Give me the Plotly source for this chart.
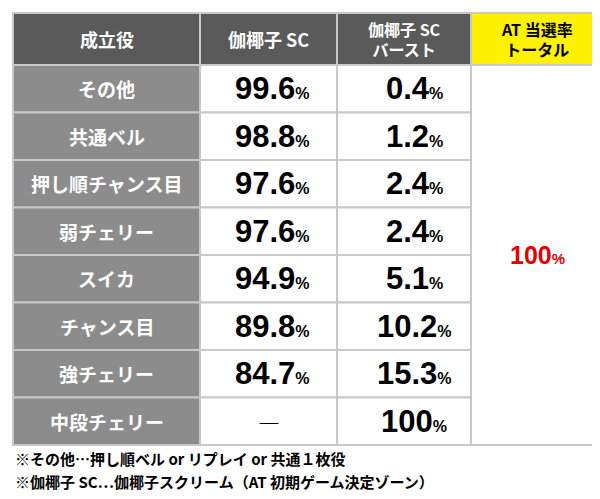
import plotly.graph_objects as go

headers = ["成立役", "伽椰子 SC", "伽椰子 SC<br>バースト", "AT 当選率<br>トータル"]
roles = ["その他", "共通ベル", "押し順チャンス目", "弱チェリー", "スイカ", "チャンス目", "強チェリー", "中段チェリー"]
sc = ["99.6", "98.8", "97.6", "97.6", "94.9", "89.8", "84.7", None]
burst = ["0.4", "1.2", "2.4", "2.4", "5.1", "10.2", "15.3", "100"]
total = "100"
notes = ["※その他…押し順ベル or リプレイ or 共通１枚役",
         "※伽椰子 SC…伽椰子スクリーム（AT 初期ゲーム決定ゾーン）"]

FONT = "Noto Sans CJK JP"
NUMF = "Liberation Sans"
xs = [5, 192, 329, 463, 595]
y0, yh = 5, 57
ye = 437
rh = (ye - yh) / len(roles)

fig = go.Figure()
shapes, ann = [], []
def rect(x0, x1, ya, yb, fill):
    shapes.append(dict(type="rect", x0=x0, x1=x1, y0=ya, y1=yb, fillcolor=fill,
                       line=dict(color="#c8c8c8", width=2), layer="below"))
def txt(x, y, t, size, color, family=FONT, **kw):
    ann.append(dict(x=x, y=y, text=t, showarrow=False, font=dict(family=family, size=size, color=color), **kw))

for i, h in enumerate(headers):
    fill = "#fff200" if i == 3 else "#5a5a5a"
    rect(xs[i], xs[i+1], y0, yh, fill)
    two = "<br>" in h
    txt((xs[i]+xs[i+1])/2, (y0+yh)/2, "<b>"+h+"</b>", 16 if two else 18,
        "#000" if i == 3 else "#fff", height=50 if two else None)

def pct(v, size):
    return f"<b>{v}<span style='font-size:{size}px'>%</span></b>"

for r, role in enumerate(roles):
    ya, yb = yh + r*rh, yh + (r+1)*rh
    yc = (ya+yb)/2
    rect(xs[0], xs[1], ya, yb, "#8c8c8c")
    txt((xs[0]+xs[1])/2, yc, "<b>"+role+"</b>", 19, "#fff")
    rect(xs[1], xs[2], ya, yb, "#ffffff")
    rect(xs[2], xs[3], ya, yb, "#ffffff")
    if sc[r]:
        txt((xs[1]+xs[2])/2 + 4, yc, pct(sc[r], 16), 31, "#000", family=NUMF)
    else:
        txt((xs[1]+xs[2])/2, yc, "<b>―</b>", 22, "#000")
    txt((xs[2]+xs[3])/2 + 10, yc, pct(burst[r], 16), 31, "#000", family=NUMF)
rect(xs[3], xs[4], yh, ye, "#ffffff")
txt((xs[3]+xs[4])/2, (yh+ye)/2, pct(total, 15), 25, "#e60000", family=NUMF)

for k, n in enumerate(notes):
    txt(5, 450 + k*23, "<b>"+n+"</b>", 15, "#000", xanchor="left")

fig.update_layout(width=600, height=499, margin=dict(l=0, r=0, t=0, b=0),
                  plot_bgcolor="#fff", paper_bgcolor="#fff", shapes=shapes, annotations=ann,
                  xaxis=dict(range=[0, 600], visible=False, fixedrange=True),
                  yaxis=dict(range=[499, 0], visible=False, fixedrange=True),
                  showlegend=False)
fig.write_html("out.html")
